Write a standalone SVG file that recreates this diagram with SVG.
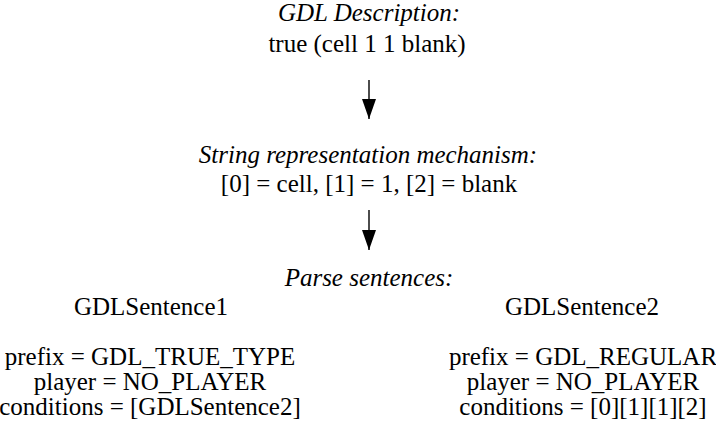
<svg xmlns="http://www.w3.org/2000/svg" width="716" height="427" viewBox="0 0 716 427">
<defs>
<style>
text{font-family:'Liberation Serif','DejaVu Serif','Times New Roman',Tinos,'Noto Serif','Nimbus Roman','FreeSerif',Times,serif;font-size:25px;fill:#000;text-anchor:middle}
.it{font-style:italic}
.conn line{stroke:#000;stroke-width:1.4}
</style>
<marker id="ah" viewBox="0 0 20 14" refX="20" refY="7" markerWidth="20" markerHeight="14" markerUnits="userSpaceOnUse" orient="auto">
<path d="M0,0 L20,7 L0,14 Z" fill="#000"/>
</marker>
</defs>
<rect width="716" height="427" fill="#fff"/>
<g id="gdl-description">
<text class="it" x="369" y="21">GDL Description:</text>
<text x="367" y="52">true (cell 1 1 blank)</text>
</g>
<g id="string-representation">
<text class="it" x="368" y="163">String representation mechanism:</text>
<text x="369" y="192">[0] = cell, [1] = 1, [2] = blank</text>
</g>
<g id="parse-sentences">
<text class="it" x="369" y="286">Parse sentences:</text>
</g>
<g id="gdl-sentence-1">
<text x="151" y="315">GDLSentence1</text>
<text x="150" y="365">prefix = GDL_TRUE_TYPE</text>
<text x="150" y="390">player = NO_PLAYER</text>
<text x="150" y="415">conditions = [GDLSentence2]</text>
</g>
<g id="gdl-sentence-2">
<text x="582" y="315">GDLSentence2</text>
<text x="583" y="365">prefix = GDL_REGULAR</text>
<text x="583" y="390">player = NO_PLAYER</text>
<text x="583" y="415">conditions = [0][1][1][2]</text>
</g>
<g id="connectors" class="conn">
<line x1="369" y1="80" x2="369" y2="119" marker-end="url(#ah)"/>
<line x1="369" y1="210" x2="369" y2="250" marker-end="url(#ah)"/>
</g>
</svg>
